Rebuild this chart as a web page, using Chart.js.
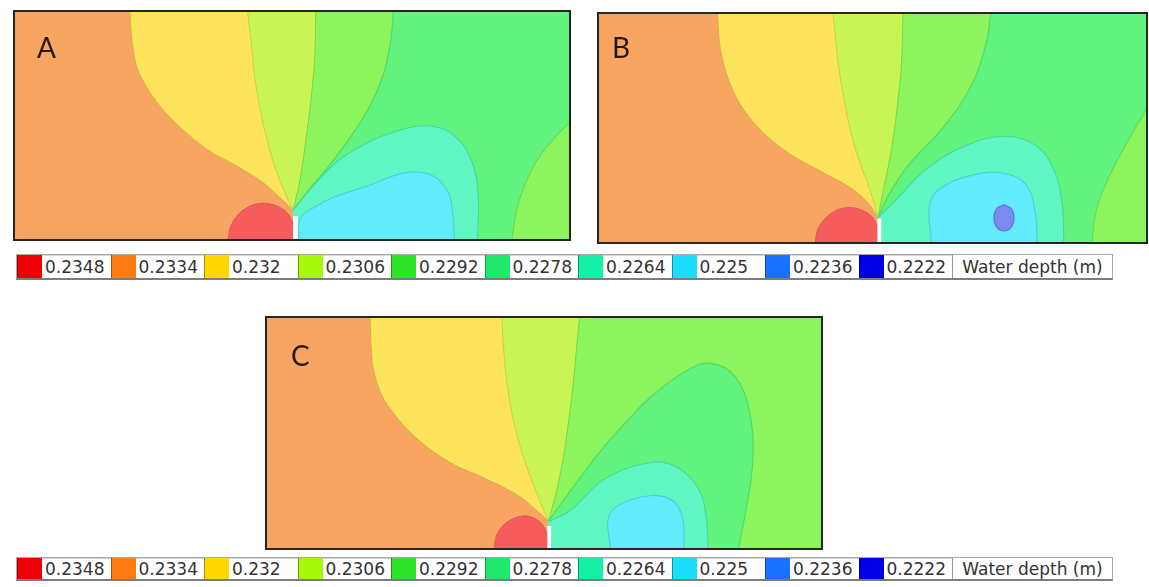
<!DOCTYPE html>
<html>
<head>
<meta charset="utf-8">
<script src="https://cdn.jsdelivr.net/npm/chart.js@4.4.1/dist/chart.umd.min.js"></script>
<style>
  html, body { margin: 0; padding: 0; background: #fff; }
  body { width: 1149px; height: 587px; position: relative; overflow: hidden; }
  .panel { position: absolute; box-sizing: border-box; border: 2px solid #262626; background: #fff; }
  .panel canvas { display: block; }
  .tag { position: absolute; font-family: Lato, "Open Sans", sans-serif; font-size: 28px; line-height: 28px; color: #24190f; }
  .legend { position: absolute; left: 16px; display: flex; box-sizing: border-box;
            border: 1px solid #a8a8a8; border-bottom: 2px solid #7c7c7c; background: #fff;
            font-family: "DejaVu Sans", sans-serif; font-size: 17px; color: #333; }
  .legend .sw { width: 25px; height: 100%; box-sizing: border-box; border-left: 1px solid rgba(0,0,0,0.35); }
  .legend .lb { width: 68.5px; height: 100%; box-sizing: border-box; padding-left: 3px;
                display: flex; align-items: center; border-top: 1px solid #d6d6d6; }
  .legend .ttl { width: 160px; height: 100%; box-sizing: border-box; border-left: 1px solid #9a9a9a;
                 display: flex; align-items: center; justify-content: center; }
</style>
</head>
<body>

<div class="panel" style="left:13px;top:10px;width:558px;height:231px;"><canvas id="chartA" width="554" height="227"></canvas></div>
<div class="panel" style="left:597px;top:12px;width:551px;height:232px;"><canvas id="chartB" width="547" height="228"></canvas></div>
<div class="panel" style="left:265px;top:316px;width:558px;height:234px;"><canvas id="chartC" width="554" height="230"></canvas></div>

<div class="tag" style="left:37px;top:33px;">A</div>
<div class="tag" style="left:612px;top:33px;">B</div>
<div class="tag" style="left:291px;top:341px;">C</div>

<div class="legend" id="legend1" style="top:254px;height:26px;"></div>
<div class="legend" id="legend2" style="top:557px;height:24px;"></div>

<script>
// ---- Legend: contour levels of water depth (m) ----
const levels = ['0.2348', '0.2334', '0.232', '0.2306', '0.2292', '0.2278', '0.2264', '0.225', '0.2236', '0.2222'];
const legendTitle = 'Water depth (m)';
const levelColors = ['#ec0000', '#ff7c14', '#ffd800', '#a8f80c', '#2fe22a', '#1fe86a', '#14f0a8', '#1adffa', '#1a70ff', '#0000e4'];

// ---- Panel A: contour curves (x along channel, y across; source near x = 50) ----
const A_extent = [100, 41.4];
const A_domain = [[0, 0], [0, 41.4], [100, 41.4], [100, 0]];
const A_orangeYellow = [[20.7, 41.4], [21.2, 35.5], [22.3, 30.5], [25.5, 25.0], [29.8, 20.3], [34.7, 16.3], [40.0, 13.3], [44.7, 10.3], [48.0, 7.3], [50.2, 5.2]];
const A_yellowLime = [[42.0, 41.4], [42.7, 35.0], [43.5, 28.0], [44.8, 21.0], [46.5, 14.5], [48.3, 9.5], [50.2, 5.2]];
const A_limeGreen = [[54.3, 41.4], [54.1, 33.0], [53.4, 25.0], [52.5, 18.0], [51.5, 11.0], [50.2, 5.2]];
const A_greenGreen2 = [[68.3, 41.4], [67.8, 36.0], [66.5, 30.0], [64.2, 24.5], [60.5, 18.5], [56.0, 12.5], [52.5, 8.3], [50.2, 5.2]];
const A_green2Teal = [[50.2, 5.2], [53.5, 9.3], [58.0, 14.0], [63.5, 17.5], [69.3, 19.8], [75.0, 20.6], [79.5, 18.7], [82.5, 14.0], [83.6, 8.0], [83.5, 0]];
const A_tealCyan = [[51.2, 0], [51.5, 3.8], [54.0, 5.8], [57.5, 7.6], [64.0, 9.8], [70.5, 12.1], [75.3, 11.6], [78.2, 8.5], [79.0, 4.5], [79.3, 0]];
const A_rightLobe = [[89.7, 0], [90.3, 4.0], [91.5, 8.5], [94.0, 14.0], [97.0, 18.0], [100, 21.1]];
const A_redCap = [[38.5, 0], [38.9, 2.2], [40.2, 4.3], [42.2, 5.9], [44.5, 6.5], [46.8, 6.2], [48.7, 5.1], [49.9, 3.5], [50.2, 1.5], [50.2, 0]];
const A_gap = [[50.2, 0], [50.2, 4.2], [51.1, 4.2], [51.1, 0]];
const A_closeRight = [[50.2, 0], [100, 0], [100, 41.4]];
const A_closeSource = [[50.2, 0]];
const A_closeLobe = [[100, 0]];

// ---- Panel B ----
const B_extent = [98.6, 41.6];
const B_domain = [[0, 0], [0, 41.6], [98.6, 41.6], [98.6, 0]];
const B_orangeYellow = [[21.3, 41.6], [21.9, 35.0], [23.2, 30.0], [25.5, 25.0], [29.0, 20.5], [34.0, 16.3], [40.3, 12.7], [45.4, 9.8], [48.7, 6.8], [50.3, 4.4]];
const B_yellowLime = [[42.2, 41.6], [43.2, 32.0], [44.2, 26.0], [45.4, 20.0], [47.0, 14.5], [48.7, 10.0], [50.3, 4.4]];
const B_limeGreen = [[54.8, 41.6], [54.5, 32.0], [53.9, 26.0], [53.2, 20.0], [52.2, 14.0], [51.2, 9.2], [50.3, 4.4]];
const B_greenGreen2 = [[70.6, 41.6], [69.9, 36.7], [67.3, 28.9], [62.2, 21.1], [55.7, 13.9], [51.9, 8.0], [50.3, 4.4]];
const B_green2Teal = [[50.3, 4.4], [53.8, 8.0], [59.0, 13.3], [66.0, 17.5], [73.2, 19.3], [78.9, 17.5], [82.2, 12.7], [83.5, 6.8], [83.8, 0]];
const B_tealCyan = [[59.9, 0], [59.6, 6.8], [61.6, 9.8], [67.3, 12.2], [73.2, 12.5], [77.0, 10.4], [78.6, 5.6], [79.0, 0]];
const B_blueCore = [[73.0, 6.8], [74.3, 6.1], [74.8, 4.4], [74.3, 2.7], [73.0, 2.0], [71.7, 2.7], [71.2, 4.4], [71.7, 6.1], [73.0, 6.8]];
const B_rightLobe = [[88.9, 0], [89.3, 4.0], [90.3, 8.0], [92.0, 12.0], [94.0, 16.0], [96.5, 20.5], [98.6, 24.1]];
const B_redCap = [[39.0, 0], [39.4, 2.2], [40.8, 4.3], [42.8, 5.8], [45.0, 6.3], [47.2, 5.9], [49.0, 4.8], [50.0, 3.2], [50.2, 1.5], [50.2, 0]];
const B_gap = [[50.2, 0], [50.2, 4.3], [50.9, 4.3], [50.9, 0]];
const B_closeRight = [[50.3, 0], [98.6, 0], [98.6, 41.6]];
const B_closeSource = [[50.3, 0]];
const B_closeLobe = [[98.6, 0]];

// ---- Panel C ----
const C_extent = [100, 41.6];
const C_domain = [[0, 0], [0, 41.6], [100, 41.6], [100, 0]];
const C_orangeYellow = [[18.6, 41.6], [18.8, 36.0], [19.2, 32.2], [20.3, 28.5], [21.9, 25.6], [26.4, 20.3], [32.9, 15.5], [39.5, 12.5], [45.3, 9.5], [48.6, 6.8], [50.8, 4.8]];
const C_yellowLime = [[42.4, 41.6], [42.8, 35.0], [43.4, 29.2], [44.5, 23.0], [46.0, 17.3], [47.7, 12.5], [49.3, 8.4], [50.8, 4.8]];
const C_limeGreen = [[56.4, 41.6], [55.8, 35.2], [55.2, 29.0], [54.5, 23.3], [53.6, 17.0], [52.5, 11.3], [50.8, 4.8]];
const C_greenLobe = [[50.8, 4.8], [53.8, 9.0], [57.5, 14.0], [61.0, 18.5], [65.0, 23.0], [69.5, 27.5], [76.0, 32.2], [80.2, 33.4], [84.5, 31.0], [87.1, 24.5], [87.7, 16.1], [86.4, 6.6], [85.1, 0]];
const C_green2Teal = [[50.8, 4.8], [54.5, 6.6], [61.0, 12.5], [69.5, 15.5], [74.0, 14.6], [77.9, 10.7], [79.3, 5.4], [79.6, 0]];
const C_tealCyan = [[62.0, 0], [61.6, 5.4], [63.6, 7.8], [69.5, 9.5], [73.4, 8.4], [75.0, 5.4], [75.3, 0]];
const C_redCap = [[41.0, 0], [41.4, 2.2], [42.6, 4.0], [44.4, 5.3], [46.3, 5.8], [48.2, 5.4], [49.7, 4.2], [50.5, 2.5], [50.6, 0]];
const C_gap = [[50.6, 0], [50.6, 4.0], [51.3, 4.0], [51.3, 0]];
const C_closeRight = [[50.8, 0], [100, 0], [100, 41.6]];
const C_closeSource = [[50.8, 0]];

// ---- Styling of the bands (map colours are the legend colours washed out) ----
const bandFill = {
  red: '#f65b5e', orange: '#f8a561', yellow: '#fee35d', lime: '#c8f455', green: '#8cf45c',
  green2: '#62f47e', teal: '#5ff6c3', cyan: '#63eafc', blue: '#7b8cf0', gap: '#ffffff', gapPale: '#e6fbf4'
};
const edge = {
  orangeYellow: '#dcae4e', yellowLime: '#c4d845', limeGreen: '#7ed84a', greenGreen2: '#52d866',
  green2Teal: '#48d8a0', tealCyan: '#4ad0d8', lobe: '#6ad85a', red: '#e4585c', blue: '#6070d8'
};

function toXY(list) { return list.map(([x, y]) => ({ x, y })); }

// Fills each contour band: the dataset's curve plus its closing points along the domain edge.
const bandPainter = {
  id: 'bandPainter',
  beforeDatasetDraw(chart, args) {
    const ds = chart.data.datasets[args.index];
    if (!ds.bandColor) return;
    const line = args.meta.dataset;
    const area = chart.chartArea;
    const xs = chart.scales.x, ys = chart.scales.y;
    const ctx = chart.ctx;
    line.updateControlPoints(area, 'x');
    ctx.save();
    ctx.beginPath();
    ctx.rect(area.left, area.top, area.right - area.left, area.bottom - area.top);
    ctx.clip();
    ctx.beginPath();
    line.path(ctx);
    for (const [x, y] of ds.closure) ctx.lineTo(xs.getPixelForValue(x), ys.getPixelForValue(y));
    ctx.closePath();
    ctx.fillStyle = ds.bandColor;
    ctx.fill();
    ctx.restore();
  }
};

function buildPanel(canvasId, extent, layers) {
  const n = layers.length;
  const datasets = layers.map((L, i) => ({
    data: toXY(L.curve),
    bandColor: bandFill[L.band],
    closure: L.close || [],
    borderColor: L.edge || 'rgba(0,0,0,0)',
    borderWidth: L.edge ? 1.1 : 0,
    tension: L.sharp ? 0.001 : 0.4,
    pointRadius: 0,
    fill: false,
    order: n - i
  }));
  return new Chart(document.getElementById(canvasId), {
    type: 'line',
    data: { datasets },
    options: {
      responsive: false,
      animation: false,
      events: [],
      layout: { padding: 0 },
      plugins: { legend: { display: false }, tooltip: { enabled: false } },
      scales: {
        x: { type: 'linear', min: 0, max: extent[0], display: false },
        y: { type: 'linear', min: 0, max: extent[1], display: false }
      }
    },
    plugins: [bandPainter]
  });
}

buildPanel('chartA', A_extent, [
  { curve: A_domain, band: 'orange', sharp: true },
  { curve: A_orangeYellow, close: A_closeRight, band: 'yellow', edge: edge.orangeYellow },
  { curve: A_yellowLime, close: A_closeRight, band: 'lime', edge: edge.yellowLime },
  { curve: A_limeGreen, close: A_closeRight, band: 'green', edge: edge.limeGreen },
  { curve: A_greenGreen2, close: A_closeRight, band: 'green2', edge: edge.greenGreen2 },
  { curve: A_rightLobe, close: A_closeLobe, band: 'green', edge: edge.lobe },
  { curve: A_green2Teal, close: A_closeSource, band: 'teal', edge: edge.green2Teal },
  { curve: A_tealCyan, band: 'cyan', edge: edge.tealCyan },
  { curve: A_redCap, band: 'red', edge: edge.red },
  { curve: A_gap, band: 'gapPale', sharp: true }
]);

buildPanel('chartB', B_extent, [
  { curve: B_domain, band: 'orange', sharp: true },
  { curve: B_orangeYellow, close: B_closeRight, band: 'yellow', edge: edge.orangeYellow },
  { curve: B_yellowLime, close: B_closeRight, band: 'lime', edge: edge.yellowLime },
  { curve: B_limeGreen, close: B_closeRight, band: 'green', edge: edge.limeGreen },
  { curve: B_greenGreen2, close: B_closeRight, band: 'green2', edge: edge.greenGreen2 },
  { curve: B_rightLobe, close: B_closeLobe, band: 'green', edge: edge.lobe },
  { curve: B_green2Teal, close: B_closeSource, band: 'teal', edge: edge.green2Teal },
  { curve: B_tealCyan, band: 'cyan', edge: edge.tealCyan },
  { curve: B_blueCore, band: 'blue', edge: edge.blue },
  { curve: B_redCap, band: 'red', edge: edge.red },
  { curve: B_gap, band: 'gap', sharp: true }
]);

buildPanel('chartC', C_extent, [
  { curve: C_domain, band: 'orange', sharp: true },
  { curve: C_orangeYellow, close: C_closeRight, band: 'yellow', edge: edge.orangeYellow },
  { curve: C_yellowLime, close: C_closeRight, band: 'lime', edge: edge.yellowLime },
  { curve: C_limeGreen, close: C_closeRight, band: 'green', edge: edge.limeGreen },
  { curve: C_greenLobe, close: C_closeSource, band: 'green2', edge: edge.greenGreen2 },
  { curve: C_green2Teal, close: C_closeSource, band: 'teal', edge: edge.green2Teal },
  { curve: C_tealCyan, band: 'cyan', edge: edge.tealCyan },
  { curve: C_redCap, band: 'red', edge: edge.red },
  { curve: C_gap, band: 'gap', sharp: true }
]);

// ---- Colour-scale legends ----
function buildLegend(id) {
  const box = document.getElementById(id);
  levels.forEach((lv, i) => {
    const sw = document.createElement('div');
    sw.className = 'sw';
    sw.style.background = levelColors[i];
    const lb = document.createElement('div');
    lb.className = 'lb';
    lb.textContent = lv;
    box.appendChild(sw);
    box.appendChild(lb);
  });
  const t = document.createElement('div');
  t.className = 'ttl';
  t.textContent = legendTitle;
  box.appendChild(t);
}
buildLegend('legend1');
buildLegend('legend2');
</script>
</body>
</html>
